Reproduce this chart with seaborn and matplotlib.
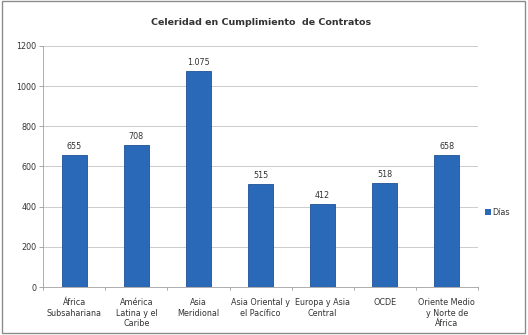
import matplotlib
matplotlib.use("Agg")
import matplotlib.pyplot as plt
import seaborn as sns
import pandas as pd
from matplotlib.patches import Rectangle

regiones = ["África\nSubsahariana", "América\nLatina y el\nCaribe", "Asia\nMeridional",
            "Asia Oriental y\nel Pacífico", "Europa y Asia\nCentral", "OCDE",
            "Oriente Medio\ny Norte de\nÁfrica"]
dias = [655, 708, 1075, 515, 412, 518, 658]
etiquetas = ["655", "708", "1.075", "515", "412", "518", "658"]
yticks = [0, 200, 400, 600, 800, 1000, 1200]

df = pd.DataFrame({"Región": regiones, "Días": dias})

sns.set_theme(style="white")
plt.rcParams["font.family"] = ["DejaVu Sans"]

fig = plt.figure(figsize=(5.28, 3.35), dpi=100)
ax = fig.add_axes([0.082, 0.143, 0.823, 0.72])

color = "#2a68b8"
sns.barplot(data=df, x="Región", y="Días", color=color, width=0.4, ax=ax,
            edgecolor="#1d5296", linewidth=0.6, saturation=1)

for i, (v, t) in enumerate(zip(dias, etiquetas)):
    ax.text(i, v + 20, t, ha="center", va="bottom", fontsize=5.8, color="#333333")

ax.set_ylim(0, 1200)
ax.set_yticks(yticks)
ax.set_yticklabels([str(t) for t in yticks], fontsize=5.8, color="#333333")
ax.set_xlim(-0.5, len(regiones) - 0.5)
ax.set_xticks(range(len(regiones)))
ax.set_xticklabels(regiones, fontsize=5.8, color="#333333", linespacing=1.2)
ax.tick_params(axis="x", length=0, pad=8)
ax.tick_params(axis="y", length=3, width=0.6, color="#999999", pad=2, left=True)
ax.set_xlabel("")
ax.set_ylabel("")
ax.grid(axis="y", color="#c4c4c4", linewidth=0.6)
ax.set_axisbelow(True)
for side in ["top", "right"]:
    ax.spines[side].set_visible(False)
for side in ["left", "bottom"]:
    ax.spines[side].set_color("#a0a0a0")
    ax.spines[side].set_linewidth(0.6)

# small category separators on the horizontal axis
for b in [x + 0.5 for x in range(-1, len(regiones))]:
    ax.plot([b, b], [0, -12], color="#a0a0a0", lw=0.6, clip_on=False)

ax.set_title("Celeridad en Cumplimiento  de Contratos", fontsize=6.8, fontweight="bold",
             color="#333333", pad=15)

# legend
fig.patches.append(Rectangle((0.918, 0.358), 0.011, 0.017, transform=fig.transFigure,
                             facecolor=color, edgecolor="none"))
fig.text(0.932, 0.366, "Días", fontsize=5.8, va="center", color="#333333")

# chart border
fig.patches.append(Rectangle((0.004, 0.006), 0.99, 0.99, transform=fig.transFigure,
                             fill=False, edgecolor="#8c8c8c", linewidth=1.0))

fig.savefig("out.png", dpi=100)
